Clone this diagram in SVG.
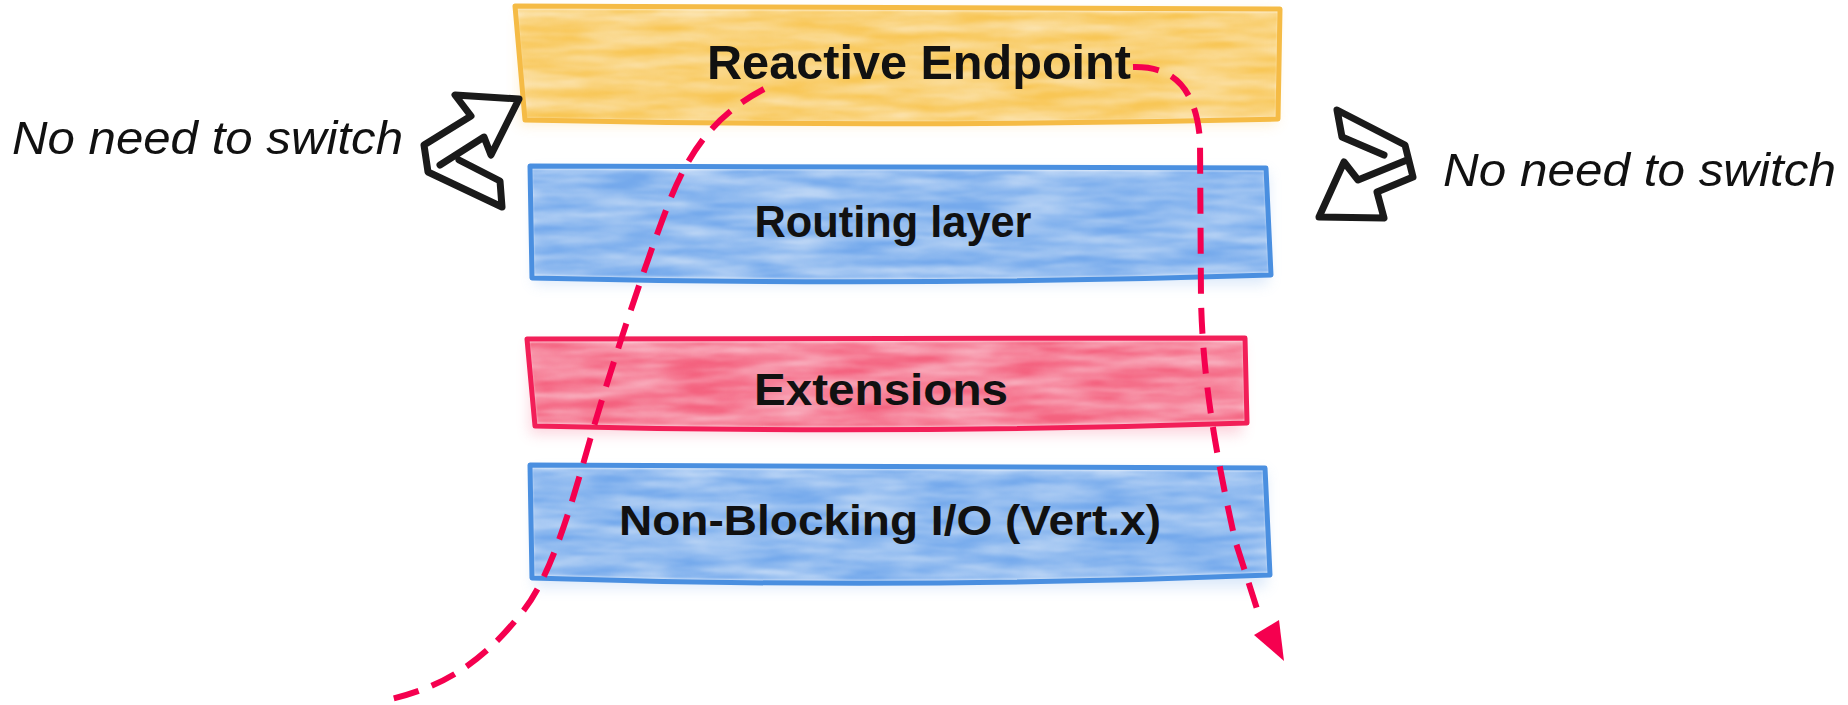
<svg xmlns="http://www.w3.org/2000/svg" width="1848" height="705" viewBox="0 0 1848 705">
<style>
.lbl{font-family:"Liberation Sans",Arial,sans-serif;font-weight:bold;fill:#111;text-anchor:middle}
.side{font-family:"Liberation Sans",Arial,sans-serif;font-style:italic;fill:#111}
.sketch{fill:none;stroke:#1a1a1a;stroke-width:7;stroke-linejoin:round;stroke-linecap:round}
.dash{fill:none;stroke:#f5004f;stroke-width:6;stroke-dasharray:26 14}
.edge{fill:none;stroke-width:5;stroke-linejoin:round}
</style>
<defs>
<filter id="wc" x="-3%" y="-15%" width="106%" height="130%">
<feTurbulence type="fractalNoise" baseFrequency="0.012 0.09" numOctaves="4" seed="7" result="n"/>
<feColorMatrix in="n" type="matrix" values="0 0 0 0 0 0 0 0 0 0 0 0 0 0 0 0 0 0 -1.1 1.25" result="a"/>
<feComposite in="SourceGraphic" in2="a" operator="in" result="c"/>
<feGaussianBlur in="c" stdDeviation="1"/>
</filter>
<filter id="soft" x="-5%" y="-30%" width="110%" height="160%">
<feGaussianBlur stdDeviation="7"/>
</filter>
</defs>

<g id="node-reactive">
<rect x="520" y="12" width="756" height="112" fill="#f9c45a" opacity="0.3" filter="url(#soft)"/>
<path d="M517,9 L1278,12 L1276,117 Q900,126 526,118 Z" fill="#f8c655" filter="url(#wc)"/>
<path class="edge" d="M515,6 L1280,9 L1278,119 Q900,128 525,120 Z" stroke="#f5bb45"/>
<text class="lbl" x="919" y="79" font-size="49" textLength="424" lengthAdjust="spacingAndGlyphs">Reactive Endpoint</text>
</g>

<g id="node-routing">
<rect x="534" y="172" width="734" height="112" fill="#6fa6ea" opacity="0.25" filter="url(#soft)"/>
<path d="M532,169 L1264,171 L1269,272 Q905,284 534,275 Z" fill="#74a9ec" filter="url(#wc)"/>
<path class="edge" d="M530,166 L1266,168 L1271,275 Q905,287 532,278 Z" stroke="#4a8fe0"/>
<text class="lbl" x="893" y="237" font-size="44" textLength="277" lengthAdjust="spacingAndGlyphs">Routing layer</text>
</g>

<g id="node-extensions">
<rect x="530" y="344" width="712" height="90" fill="#f3577a" opacity="0.25" filter="url(#soft)"/>
<path d="M529,342 L1243,341 L1245,420 Q890,432 537,423 Z" fill="#f4627f" filter="url(#wc)"/>
<path class="edge" d="M527,339 L1245,338 L1247,423 Q890,435 535,426 Z" stroke="#f21f58"/>
<text class="lbl" x="881" y="405" font-size="44" textLength="254" lengthAdjust="spacingAndGlyphs">Extensions</text>
</g>

<g id="node-nonblocking">
<rect x="534" y="472" width="732" height="115" fill="#6fa6ea" opacity="0.25" filter="url(#soft)"/>
<path d="M532,468 L1263,471 L1268,572 Q900,587 534,575 Z" fill="#74a9ec" filter="url(#wc)"/>
<path class="edge" d="M530,465 L1265,468 L1270,575 Q900,590 532,578 Z" stroke="#4a8fe0"/>
<text class="lbl" x="890" y="535" font-size="42" textLength="542" lengthAdjust="spacingAndGlyphs">Non-Blocking I/O (Vert.x)</text>
</g>

<g id="label-left">
<text class="side" x="12" y="154" font-size="47" textLength="391" lengthAdjust="spacingAndGlyphs">No need to switch</text>
<path class="sketch" d="M459,160 L500,181 L502,207 L428,172 L424,145 L471,116 L455,95 L519,99 L491,155 L484,137 L440,165"/>
</g>

<g id="label-right">
<text class="side" x="1443" y="186" font-size="47" textLength="393" lengthAdjust="spacingAndGlyphs">No need to switch</text>
<path class="sketch" d="M1384,155 L1342,137 L1337,110 L1405,145 L1413,177 L1377,192 L1384,218 L1319,217 L1344,162 L1358,180 L1407,160"/>
</g>

<g id="connectors">
<path class="dash" d="M764,89 C715,115 690,150 670,200 C650,250 610,370 590,440 C570,510 550,580 520,615 C480,665 440,688 387,700"/>
<path class="dash" d="M1133,67 C1175,66 1196,90 1200,140 L1201,300 C1203,380 1215,450 1235,540 L1258,612"/>
<polygon points="1254,635 1279,620 1284,661" fill="#f5004f"/>
</g>
</svg>
